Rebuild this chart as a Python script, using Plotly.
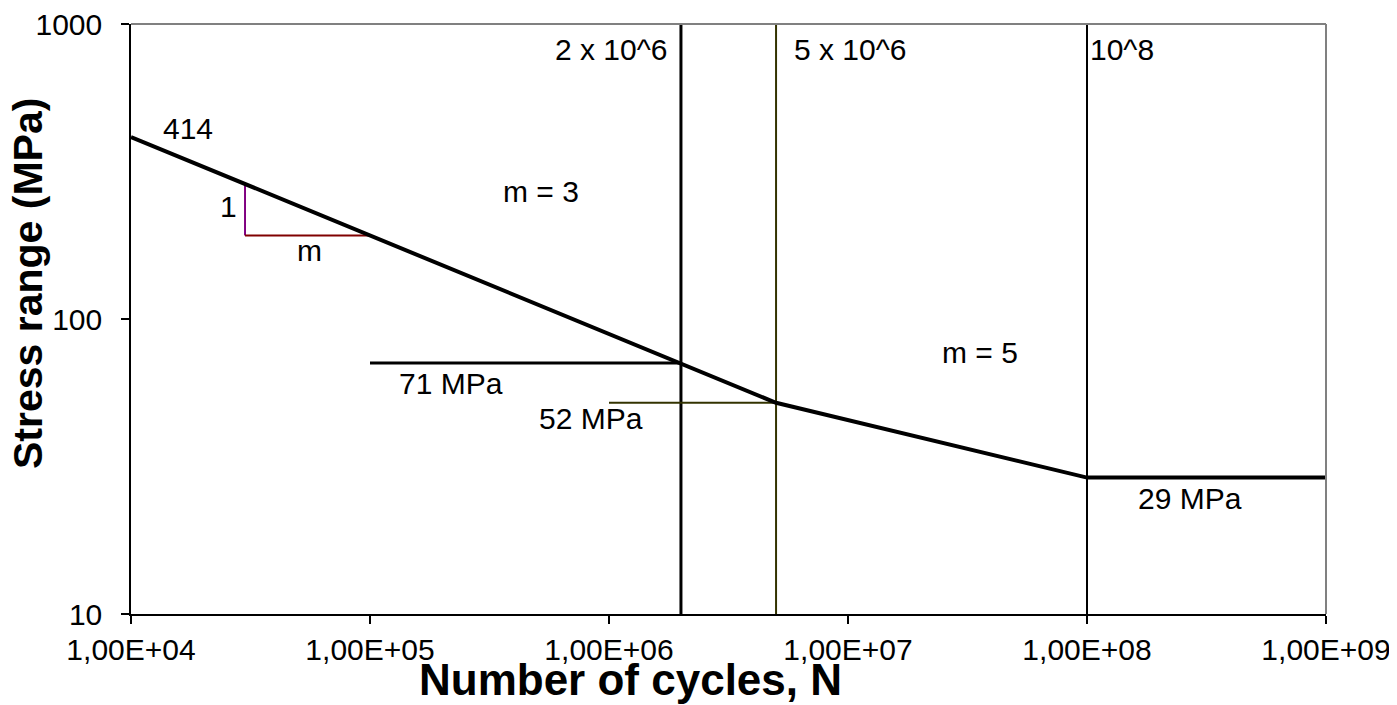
import math
import plotly.graph_objects as go

# ---- data ----
sn_cycles = [1e4, 2e6, 5e6, 1e8, 1e9]
sn_stress = [414, 71, 52, 29, 29]

cafl71_cycles = [1e5, 2e6]
cafl71_stress = [71, 71]

cafl52_cycles = [1e6, 5e6]
cafl52_stress = [52, 52]

vline_2e6 = 2e6
vline_5e6 = 5e6
vline_1e8 = 1e8

tri_vert_cycles = [3e4, 3e4]
tri_vert_stress = [287, 192]
tri_horz_cycles = [3e4, 1e5]
tri_horz_stress = [192, 192]

x_tickvals = [1e4, 1e5, 1e6, 1e7, 1e8, 1e9]
x_ticktext = ["1,00E+04", "1,00E+05", "1,00E+06", "1,00E+07", "1,00E+08", "1,00E+09"]
y_tickvals = [10, 100, 1000]
y_ticktext = ["10", "100", "1000"]

# annotations: (text, cycles, stress, xanchor)
labels = [
    ("414", 1.73e4, 443, "center"),
    ("1", 2.57e4, 240, "center"),
    ("m", 5.6e4, 171, "center"),
    ("m = 3", 5.2e5, 270, "center"),
    ("2 x 10^6", 1.8e6, 817, "right"),
    ("5 x 10^6", 5.85e6, 817, "left"),
    ("10^8", 1.01e8, 817, "left"),
    ("m = 5", 3.56e7, 76.7, "center"),
    ("71 MPa", 2.18e5, 60.3, "center"),
    ("52 MPa", 8.4e5, 46.1, "center"),
    ("29 MPa", 2.7e8, 24.7, "center"),
]

FONT = "Arial, Liberation Sans, sans-serif"
OLIVE = "#333300"

fig = go.Figure()

def line(xs, ys, color, width):
    fig.add_trace(go.Scatter(x=xs, y=ys, mode="lines",
                             line=dict(color=color, width=width),
                             showlegend=False, hoverinfo="skip"))

line([vline_2e6, vline_2e6], [10, 1000], "black", 3)
line([vline_5e6, vline_5e6], [10, 1000], OLIVE, 2)
line([vline_1e8, vline_1e8], [10, 1000], "black", 2)
line(cafl71_cycles, cafl71_stress, "black", 3)
line(cafl52_cycles, cafl52_stress, OLIVE, 2)
line(tri_vert_cycles, tri_vert_stress, "#800080", 2)
line(tri_horz_cycles, tri_horz_stress, "#800000", 2)
line(sn_cycles, sn_stress, "black", 4)

for text, cx, sy, anc in labels:
    fig.add_annotation(x=math.log10(cx), y=math.log10(sy), xref="x", yref="y",
                       text=text, showarrow=False, xanchor=anc, yanchor="middle",
                       font=dict(family=FONT, size=30, color="black"))

# axis titles
fig.add_annotation(x=(630 - 131) / 1195, y=0, xref="paper", yref="paper",
                   yshift=-91, text="<b>Number of cycles, N</b>", showarrow=False,
                   xanchor="center", yanchor="bottom", borderpad=0,
                   font=dict(family=FONT, size=44, color="black"))
fig.add_annotation(x=0, y=(614 - 284) / 590, xref="paper", yref="paper",
                   xshift=-103, text="<b>Stress range (MPa)</b>", showarrow=False,
                   textangle=-90, xanchor="center", yanchor="middle", borderpad=0,
                   font=dict(family=FONT, size=41, color="black"))

# gray top/right frame
fig.add_shape(type="line", xref="paper", yref="paper", x0=0, x1=1, y0=1, y1=1,
              line=dict(color="#808080", width=2))
fig.add_shape(type="line", xref="paper", yref="paper", x0=1, x1=1, y0=0, y1=1,
              line=dict(color="#808080", width=2))

# page body has an 8px margin; size the figure to fit the window
fig.update_layout(
    width=1389, height=697,
    margin=dict(l=123, r=71, t=16, b=91),
    paper_bgcolor="white", plot_bgcolor="white",
    font=dict(family=FONT, size=30, color="black"),
    xaxis=dict(type="log", range=[4, 9], tickvals=x_tickvals, ticktext=x_ticktext,
               showgrid=False, zeroline=False, showline=True, linecolor="black",
               linewidth=1.5, ticks="outside", ticklen=8, tickwidth=1.5,
               tickcolor="black", tickfont=dict(size=30), automargin=False,
               ticklabeloverflow="allow"),
    yaxis=dict(type="log", range=[1, 3], tickvals=y_tickvals, ticktext=y_ticktext,
               showgrid=False, zeroline=False, showline=True, linecolor="black",
               linewidth=1.5, ticks="outside", ticklen=8, tickwidth=1.5,
               tickcolor="black", tickfont=dict(size=30), ticklabelstandoff=13,
               automargin=False, ticklabeloverflow="allow"),
)

fig.write_html("out.html")
